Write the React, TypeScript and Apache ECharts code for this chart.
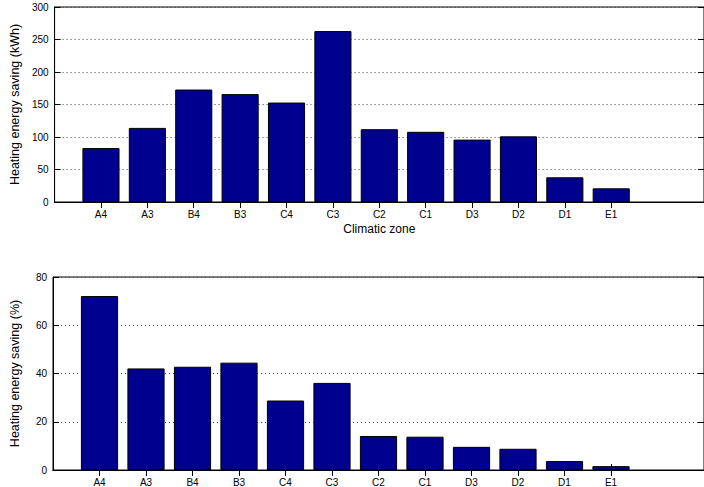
import React, { useEffect, useRef } from "react";
import * as echarts from "echarts";

const categories = ["A4", "A3", "B4", "B3", "C4", "C3", "C2", "C1", "D3", "D2", "D1", "E1"];
const energySaving = [83, 114, 173, 166, 153, 263, 112, 108, 96, 101, 38, 21];
const percentSaving = [72.1, 42.1, 42.8, 44.5, 28.8, 36.1, 14.1, 13.8, 9.6, 8.8, 3.7, 1.6];
const topTicks = [0, 50, 100, 150, 200, 250, 300];
const bottomTicks = [0, 20, 40, 60, 80];

// slots: 0 (empty), 1..12 categories, 13, 14 (empty)
const slots = ["", ...categories, "", ""];
const pad = (vals: number[]) => [null, ...vals, null, null];

const FONT = "Liberation Sans, Arial, sans-serif";
const isCat = (i: number) => i >= 1 && i <= categories.length;

export default function App() {
  const ref = useRef<HTMLDivElement>(null);
  useEffect(() => {
    if (!ref.current) return;
    const chart = echarts.init(ref.current, undefined, { renderer: "svg" });
    const xBase = (gridIndex: number, top: boolean, name?: string) => ({
      type: "category",
      gridIndex,
      data: slots,
      boundaryGap: false,
      position: top ? "top" : "bottom",
      axisLine: { show: true, lineStyle: { color: "#000", width: 1 } },
      axisTick: {
        show: true,
        inside: true,
        length: 6,
        interval: (i: number) => isCat(i),
        lineStyle: { color: "#000" },
      },
      axisLabel: {
        show: !top,
        interval: (i: number) => isCat(i),
        color: "#000",
        fontSize: 10,
        fontFamily: FONT,
        margin: 7,
      },
      splitLine: { show: false },
      name: name || "",
      nameLocation: "middle",
      nameGap: 21,
      nameTextStyle: { color: "#000", fontSize: 12, fontFamily: FONT },
    });
    const yBase = (gridIndex: number, right: boolean, max: number, interval: number, name?: string) => ({
      type: "value",
      gridIndex,
      min: 0,
      max,
      interval,
      position: right ? "right" : "left",
      axisLine: { show: true, lineStyle: { color: "#000", width: 1 } },
      axisTick: { show: true, inside: true, length: 6, lineStyle: { color: "#000" } },
      axisLabel: {
        show: !right,
        color: "#000",
        fontSize: 10,
        fontFamily: FONT,
        margin: 6,
      },
      splitLine: right
        ? { show: false }
        : { show: true, lineStyle: { color: "#444", type: [1, 3], width: 1 } },
      name: name || "",
      nameLocation: "middle",
      nameRotate: 90,
      nameGap: 32,
      nameTextStyle: { color: "#000", fontSize: 12.5, fontFamily: FONT },
    });
    const barStyle = { color: "#00008F", borderColor: "#000", borderWidth: 1 };
    chart.setOption({
      animation: false,
      backgroundColor: "#fff",
      grid: [
        { left: 51, top: 7, width: 654, height: 195, show: true, borderColor: "#000", borderWidth: 1, backgroundColor: "transparent" },
        { left: 51, top: 277, width: 654, height: 195, show: true, borderColor: "#000", borderWidth: 1, backgroundColor: "transparent" },
      ],
      xAxis: [
        xBase(0, false, "Climatic zone"),
        xBase(0, true),
        xBase(1, false),
        xBase(1, true),
      ],
      yAxis: [
        yBase(0, false, topTicks[topTicks.length - 1], topTicks[1] - topTicks[0], "Heating energy saving (kWh)"),
        yBase(0, true, topTicks[topTicks.length - 1], topTicks[1] - topTicks[0]),
        yBase(1, false, bottomTicks[bottomTicks.length - 1], bottomTicks[1] - bottomTicks[0], "Heating energy saving (%)"),
        yBase(1, true, bottomTicks[bottomTicks.length - 1], bottomTicks[1] - bottomTicks[0]),
      ],
      series: [
        { type: "bar", xAxisIndex: 0, yAxisIndex: 0, data: pad(energySaving), barWidth: "80%", itemStyle: barStyle },
        { type: "bar", xAxisIndex: 2, yAxisIndex: 2, data: pad(percentSaving), barWidth: "80%", itemStyle: barStyle },
      ],
    });
    return () => chart.dispose();
  }, []);
  return <div ref={ref} style={{ width: 704, height: 487, position: "absolute", left: 0, top: 0 }} />;
}
